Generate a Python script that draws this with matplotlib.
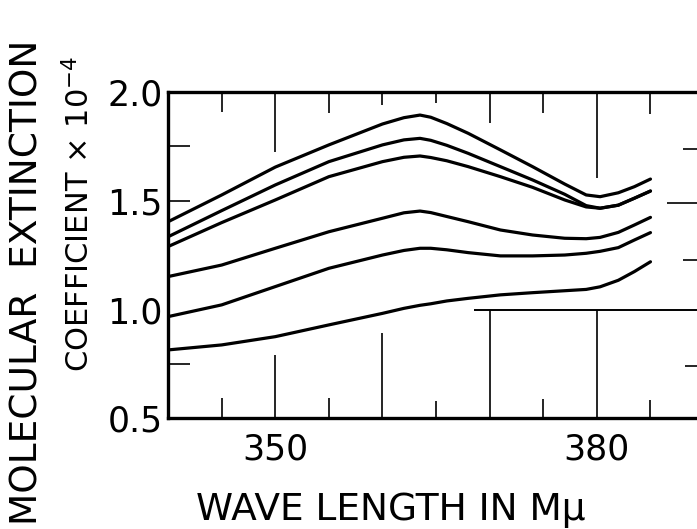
import matplotlib
matplotlib.use("Agg")
import matplotlib.pyplot as plt

# wavelength grid (m-mu) and the six extinction curves (x 10^-4)
wave = [340, 345, 350, 355, 360, 362, 363.5, 364.5, 366, 368, 371, 374, 377, 379, 380.3, 382, 383.5, 385]
curve1 = [1.404, 1.527, 1.655, 1.757, 1.853, 1.882, 1.894, 1.884, 1.855, 1.810, 1.734, 1.657, 1.577, 1.527, 1.519, 1.537, 1.565, 1.600]
curve2 = [1.335, 1.455, 1.573, 1.680, 1.757, 1.780, 1.787, 1.778, 1.755, 1.718, 1.657, 1.596, 1.530, 1.478, 1.466, 1.480, 1.512, 1.545]
curve3 = [1.290, 1.400, 1.504, 1.611, 1.680, 1.700, 1.706, 1.699, 1.684, 1.657, 1.611, 1.562, 1.504, 1.472, 1.466, 1.480, 1.512, 1.545]
curve4 = [1.152, 1.205, 1.282, 1.358, 1.420, 1.445, 1.453, 1.446, 1.428, 1.404, 1.366, 1.343, 1.328, 1.326, 1.332, 1.355, 1.389, 1.424]
curve5 = [0.968, 1.022, 1.106, 1.190, 1.251, 1.272, 1.282, 1.282, 1.275, 1.262, 1.247, 1.247, 1.251, 1.259, 1.268, 1.285, 1.320, 1.354]
curve6 = [0.815, 0.838, 0.876, 0.930, 0.983, 1.006, 1.020, 1.027, 1.040, 1.052, 1.068, 1.078, 1.087, 1.093, 1.105, 1.135, 1.175, 1.220]
curves = [curve1, curve2, curve3, curve4, curve5, curve6]

xtick_vals = [350, 380]
ytick_vals = [0.5, 1.0, 1.5, 2.0]
ytick_text = ["0.5", "1.0", "1.5", "2.0"]

# hand drawn grid marks of the original sheet
grid_x = [345, 350, 355, 360, 365, 370, 375, 380, 385]
top_mark_end = [1.91, 1.726, 1.902, 1.94, 1.95, 1.856, 1.905, 1.604, 1.90]
bottom_mark_end = [0.594, 0.792, 0.594, 0.892, 0.58, 1.0, 0.59, 1.0, 0.585]
left_mark_y = [1.75, 1.5, 0.75]
right_mark_y = [1.74, 1.49, 1.23, 0.74]
right_mark_start = [388.0, 386.5, 388.0, 388.2]

fig = plt.figure(figsize=(6.97, 5.29), dpi=100)
ax = fig.add_axes([0.2412, 0.2089, 0.7997, 0.6172])

for c in curves:
    ax.plot(wave, c, color="black", lw=2.3, solid_capstyle="round", solid_joinstyle="round")

ax.vlines(grid_x, top_mark_end, 2.0, color="black", lw=1.2)
ax.vlines(grid_x, 0.5, bottom_mark_end, color="black", lw=1.2)
ax.hlines(left_mark_y, 340, 342.05, color="black", lw=1.2)
ax.hlines(right_mark_y, right_mark_start, 392, color="black", lw=1.2)
ax.hlines(1.0, 368.5, 392, color="black", lw=1.4)

ax.set_xlim(340, 392)
ax.set_ylim(0.5, 2.0)
for s in ax.spines.values():
    s.set_linewidth(2.4)

ax.set_xticks(xtick_vals)
ax.set_xticklabels([str(v) for v in xtick_vals], fontsize=25)
ax.set_yticks(ytick_vals)
ax.set_yticklabels(ytick_text, fontsize=25)
ax.tick_params(axis="x", length=0, pad=10)
ax.tick_params(axis="y", length=0, pad=4)

W, H = 697, 529
fig.text(391 / W, 1 - 520 / H, "WAVE LENGTH IN M\u03bc", fontsize=27,
         ha="center", va="baseline")
fig.text(37 / W, 1 - 525 / H, "MOLECULAR  EXTINCTION", fontsize=27,
         rotation=90, rotation_mode="anchor", ha="left", va="baseline")
fig.text(89 / W, 1 - 372 / H, r"COEFFICIENT $\times$ 10$^{-4}$", fontsize=22,
         rotation=90, rotation_mode="anchor", ha="left", va="baseline")

fig.savefig("out.png", dpi=100)
